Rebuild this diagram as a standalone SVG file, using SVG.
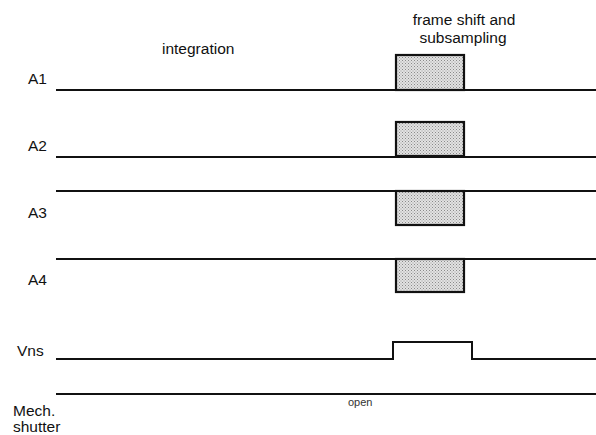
<svg xmlns="http://www.w3.org/2000/svg" width="596" height="435" viewBox="0 0 596 435">
<style>
.t{font-family:"Liberation Sans",Arial,sans-serif;font-size:15.5px;fill:#111}
.s{font-family:"Liberation Sans",Arial,sans-serif;font-size:11px;fill:#333}
.ln{stroke:#111;stroke-width:2;fill:none}
.bx{stroke:#111;stroke-width:2.2;fill:url(#dots)}
</style>
<defs>
<pattern id="dots" width="3" height="3" patternUnits="userSpaceOnUse">
<rect width="3" height="3" fill="#e2e2e2"/>
<rect x="0" y="0" width="1" height="1" fill="#8a8a8a"/>
<rect x="1.5" y="1.5" width="1" height="1" fill="#9a9a9a"/>
</pattern>
</defs>
<rect width="596" height="435" fill="#fff"/>
<g id="titles">
<text class="t" x="162" y="54">integration</text>
<text class="t" x="464" y="25" text-anchor="middle">frame shift and</text>
<text class="t" x="463" y="43" text-anchor="middle">subsampling</text>
</g>
<g id="A1">
<text class="t" x="28" y="84">A1</text>
<rect class="bx" x="396" y="55" width="68" height="35"/>
</g>
<g id="A2">
<text class="t" x="28" y="151">A2</text>
<rect class="bx" x="396" y="122" width="68" height="34"/>
</g>
<g id="A3">
<text class="t" x="28" y="218">A3</text>
<rect class="bx" x="396" y="191" width="68" height="34"/>
</g>
<g id="A4">
<text class="t" x="28" y="285">A4</text>
<rect class="bx" x="396" y="259" width="68" height="33"/>
</g>
<g id="Vns">
<text class="t" x="17" y="356">Vns</text>
</g>
<g id="shutter">
<text class="t" x="13" y="416">Mech.</text>
<text class="t" x="13" y="432">shutter</text>
<text class="s" x="348" y="406">open</text>
</g>
<g id="connectors">
<line class="ln" x1="56" y1="90" x2="596" y2="90"/>
<line class="ln" x1="56" y1="157" x2="596" y2="157"/>
<line class="ln" x1="56" y1="191" x2="596" y2="191"/>
<line class="ln" x1="56" y1="259" x2="596" y2="259"/>
<polyline class="ln" points="56,359 393,359 393,342 472,342 472,359 596,359"/>
<line class="ln" x1="56" y1="394" x2="596" y2="394"/>
</g>
</svg>
